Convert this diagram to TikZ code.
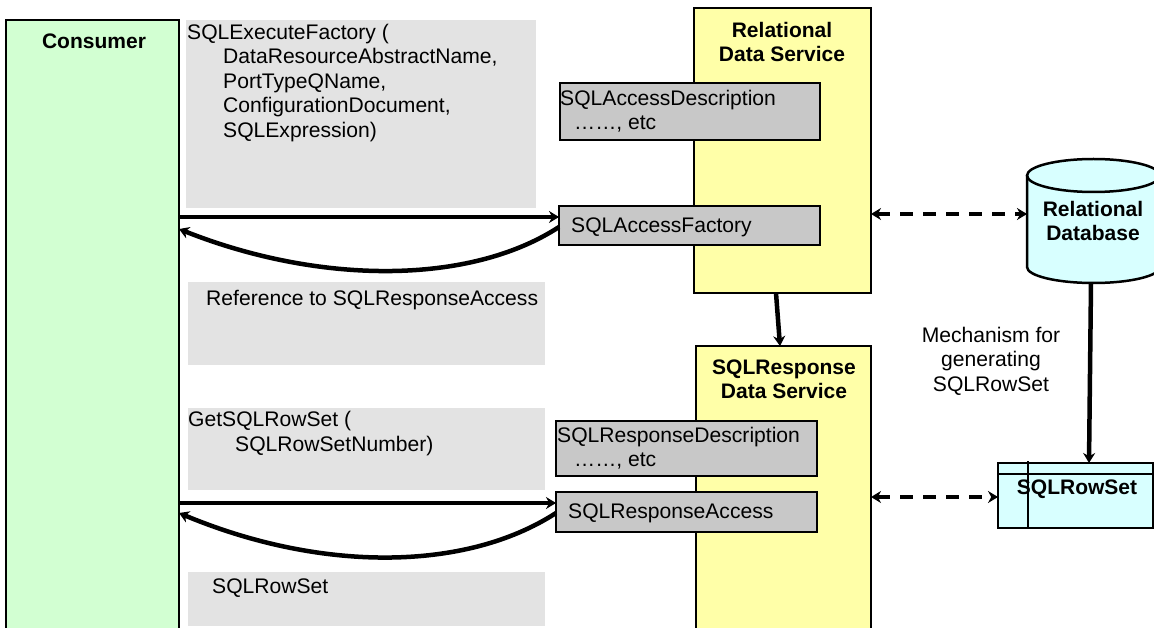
\documentclass[tikz,border=0pt]{standalone}
\usepackage{fontspec}
\setmainfont{Liberation Sans}
\usepackage{tikz}
\usetikzlibrary{arrows.meta,positioning,calc}
\tikzset{>=Stealth}
\definecolor{consumerfill}{HTML}{D2FFD2}
\definecolor{servicefill}{HTML}{FFFFA8}
\definecolor{storefill}{HTML}{D8FFFF}
\definecolor{notefill}{HTML}{E3E3E3}
\definecolor{portfill}{HTML}{C8C8C8}
\tikzset{
  plainbox/.style={rectangle,draw=black,line width=2.5pt,inner sep=0pt,outer sep=0pt,anchor=north west},
  notebox/.style={rectangle,fill=notefill,inner sep=0pt,outer sep=0pt,anchor=north west},
  portbox/.style={plainbox,fill=portfill},
  lbl/.style={inner sep=0pt,anchor=north west,align=left,font=\fontsize{21.1}{24.4}\selectfont},
  title/.style={inner sep=0pt,align=center,font=\fontsize{21}{24}\selectfont\bfseries},
  flow/.style={->,line width=4.5pt,>={Stealth[length=10pt,width=12pt]}},
  sync/.style={<->,line width=4.5pt,dash pattern=on 13pt off 10pt,>={Stealth[length=10pt,width=12pt]}}
}

\begin{document}
\begin{tikzpicture}[x=1pt,y=-1pt]
\useasboundingbox (0,0) rectangle (1154,628);
\clip (0,0) rectangle (1154,628);

% Notas grises
\node[notebox,minimum width=350pt,minimum height=188pt] (notefactory) at (186,20) {};
\node[notebox,minimum width=357pt,minimum height=83pt] (noteref) at (188,282) {};
\node[notebox,minimum width=357pt,minimum height=82pt] (noteget) at (188,408) {};
\node[notebox,minimum width=357pt,minimum height=54pt] (noterow) at (188,572) {};

% Consumidor y servicios
\node[plainbox,fill=consumerfill,minimum width=173pt,minimum height=700pt] (consumer) at (6,20) {};
\node[plainbox,fill=servicefill,minimum width=177pt,minimum height=285pt] (relservice) at (694,8) {};
\node[plainbox,fill=servicefill,minimum width=175pt,minimum height=320pt] (respservice) at (696,346) {};

% Cajas de los puertos
\node[portbox,minimum width=260pt,minimum height=57pt] (accdesc) at (560,83) {};
\node[portbox,minimum width=261pt,minimum height=39pt] (accfactory) at (559,206) {};
\node[portbox,minimum width=261pt,minimum height=55pt] (respdesc) at (556,421) {};
\node[portbox,minimum width=261pt,minimum height=40pt] (respaccess) at (556,492) {};

% Almacenes
\node[inner sep=0pt,outer sep=0pt,minimum width=133pt,minimum height=124pt] (database) at (1093.5,221) {};
\fill[storefill] (1027,175.5) -- (1027,267) arc[start angle=180,end angle=360,x radius=66.5pt,y radius=16pt]
  -- (1160,175.5) arc[start angle=0,end angle=180,x radius=66.5pt,y radius=16.5pt] -- cycle;
\draw[line width=2.5pt] (1027,175.5) -- (1027,267) arc[start angle=180,end angle=360,x radius=66.5pt,y radius=16pt] -- (1160,175.5);
\draw[line width=2.5pt] (1093.5,175.5) ellipse [x radius=66.5pt,y radius=16.5pt];
\node[plainbox,fill=storefill,minimum width=155pt,minimum height=65pt] (rowset) at (998,463) {};
\draw[line width=1.5pt] (rowset.west |- 0,474) -- (rowset.east |- 0,474);
\draw[line width=1.5pt] (1028,461) -- (1028,527);

% Textos
\node[title] (consumertitle) at (94,41) {Consumer};
\node[title] (reltitle) at (782,42) {Relational\\Data Service};
\node[title] (resptitle) at (784,379) {SQLResponse\\Data Service};
\node[title] (dbtitle) at (1093,221) {Relational\\Database};
\node[title] (rowtitle) at (1077,489) {SQLRowSet};
\node[lbl] (factorytext) at (187,24) {SQLExecuteFactory (\\\hspace*{36pt}DataResourceAbstractName,\\\hspace*{36pt}PortTypeQName,\\\hspace*{36pt}ConfigurationDocument,\\\hspace*{36pt}SQLExpression)};
\node[lbl] (reftext) at (206,290) {Reference to SQLResponseAccess};
\node[lbl] (gettext) at (188,411.5) {GetSQLRowSet (\\\hspace*{47pt}SQLRowSetNumber)};
\node[lbl] (rowtext) at (212,579) {SQLRowSet};
\node[lbl] (accdesctext) at (560,90) {SQLAccessDescription\\\hspace*{14pt}……, etc};
\node[lbl] (accfactorytext) at (571,218) {SQLAccessFactory};
\node[lbl] (respdesctext) at (557,427) {SQLResponseDescription\\\hspace*{17pt}……, etc};
\node[lbl] (respaccesstext) at (568,504) {SQLResponseAccess};
\node[lbl,align=center,anchor=north] (mechtext) at (991,327) {Mechanism for\\generating\\SQLRowSet};

% Flechas
\draw[flow] (consumer.east |- 0,217) -- ([yshift=8.5pt]accfactory.west);
\draw[flow] ([yshift=-1.5pt]accfactory.west) .. controls (470,285) and (320,285) .. (consumer.east |- 0,229);
\draw[flow] (consumer.east |- 0,503) -- ([yshift=9pt]respaccess.west);
\draw[flow] ([yshift=-1pt]respaccess.west) .. controls (465,572) and (320,572) .. (consumer.east |- 0,513);
\draw[flow] (776,293) -- (780,346);
\draw[sync] (relservice.east |- 0,214) -- (database.west |- 0,214);
\draw[sync] (respservice.east |- 0,497) -- (rowset.west |- 0,497);
\draw[flow] (1091,283) -- (1089,463);

\end{tikzpicture}
\end{document}
